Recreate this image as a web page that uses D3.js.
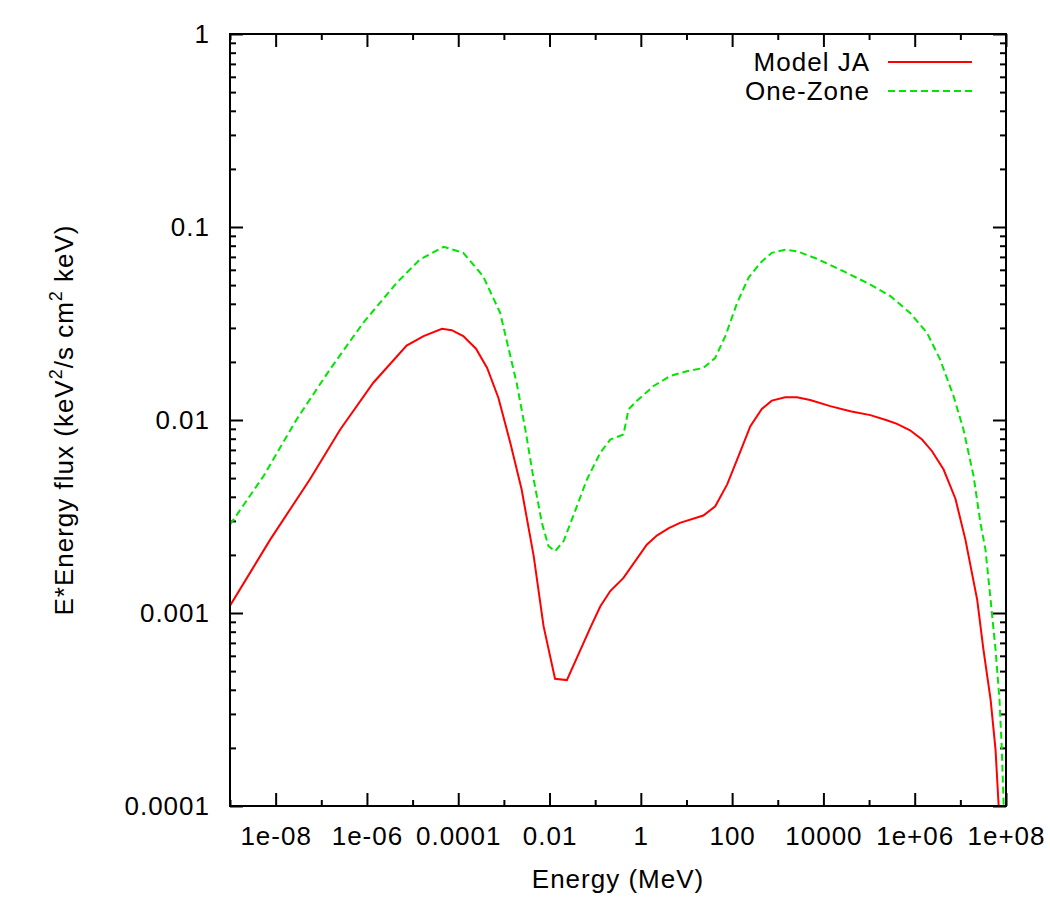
<!DOCTYPE html>
<html>
<head>
<meta charset="utf-8">
<script src="https://cdn.jsdelivr.net/npm/d3@7"></script>
<style>
  body { margin: 0; background: #fff; }
  svg { font-family: "Liberation Sans", Arial, Helvetica, sans-serif; }
  svg text { letter-spacing: 1px; }
  .axis path { display: none; }
  .axis line { stroke: #000; stroke-width: 2; }
  .axis text { font-size: 26px; fill: #000; }
</style>
</head>
<body>
<svg width="1050" height="900"></svg>
<script>
// data
const modelEnergy = [1e-9, 7.6e-9, 5.6e-8, 2.6e-7, 1.38e-6, 7.4e-6, 1.74e-5, 4.4e-5, 7.2e-5, 1.29e-4,
  2.45e-4, 4.3e-4, 7.6e-4, 1.38e-3, 2.45e-3, 4.5e-3, 7.4e-3, 0.0132, 0.024, 0.078,
  0.129, 0.214, 0.417, 1.35, 2.24, 4.1, 7.2, 23.4, 42.7, 78,
  138, 251, 447, 741, 1450, 2630, 5130, 14100, 38900, 1.07e5,
  2.45e5, 4.1e5, 7.9e5, 1.45e6, 2.4e6, 4.3e6, 7.8e6, 1.29e7, 2.34e7, 3.2e7,
  4.6e7, 5.9e7, 6.9e7, 7.4e7];
const modelFlux = [1.09e-3, 2.40e-3, 4.92e-3, 8.93e-3, 0.0156, 0.0243, 0.0272, 0.0297, 0.0292, 0.0272,
  0.0234, 0.0186, 0.0130, 7.62e-3, 4.36e-3, 1.97e-3, 8.55e-4, 4.56e-4, 4.49e-4, 8.38e-4,
  1.08e-3, 1.30e-3, 1.52e-3, 2.26e-3, 2.52e-3, 2.75e-3, 2.93e-3, 3.20e-3, 3.57e-3, 4.64e-3,
  6.49e-3, 9.29e-3, 0.0114, 0.0126, 0.0131, 0.0131, 0.0127, 0.0118, 0.0111, 0.0106,
  9.97e-3, 9.55e-3, 8.85e-3, 7.92e-3, 6.89e-3, 5.54e-3, 3.91e-3, 2.40e-3, 1.17e-3, 6.47e-4,
  3.56e-4, 1.96e-4, 1.0e-4, 7e-5];

const zoneEnergy = [1e-9, 5.4e-9, 2.9e-8, 1.55e-7, 8.3e-7, 4.5e-6, 1.45e-5, 4.8e-5, 1.29e-4, 3.5e-4,
  8.3e-4, 1.38e-3, 1.9e-3, 2.95e-3, 4.5e-3, 6.8e-3, 9.5e-3, 0.0132, 0.0204, 0.033,
  0.066, 0.129, 0.214, 0.417, 0.537, 0.81, 1.9, 4.4, 10.2, 23.4,
  42.7, 71, 129, 229, 417, 741, 1450, 2630, 7240, 27500,
  1.07e5, 2.95e5, 7.9e5, 1.86e6, 3.6e6, 7.1e6, 1.17e7, 1.95e7, 2.75e7, 3.55e7,
  4.6e7, 5.9e7, 7.2e7, 8.1e7, 8.9e7, 9.3e7];
const zoneFlux = [2.87e-3, 5.11e-3, 0.0101, 0.0183, 0.0319, 0.0514, 0.0679, 0.0789, 0.0735, 0.0556,
  0.0359, 0.0215, 0.0156, 8.93e-3, 4.92e-3, 2.93e-3, 2.22e-3, 2.09e-3, 2.36e-3, 3.18e-3,
  4.92e-3, 6.76e-3, 7.92e-3, 8.41e-3, 0.01135, 0.01253, 0.0150, 0.0169, 0.0179, 0.0186,
  0.0210, 0.0272, 0.0405, 0.0546, 0.0653, 0.0735, 0.0763, 0.0749, 0.0684, 0.0590,
  0.0503, 0.0438, 0.0359, 0.0283, 0.0206, 0.0133, 8.93e-3, 5.12e-3, 2.93e-3, 2.13e-3,
  1.17e-3, 6.47e-4, 3.56e-4, 1.96e-4, 1.0e-4, 7e-5];

const xTickValues = [1e-8, 1e-6, 1e-4, 1e-2, 1, 1e2, 1e4, 1e6, 1e8];
const xTickLabels = ["1e-08", "1e-06", "0.0001", "0.01", "1", "100", "10000", "1e+06", "1e+08"];
const yTickValues = [1e-4, 1e-3, 1e-2, 1e-1, 1];
const yTickLabels = ["0.0001", "0.001", "0.01", "0.1", "1"];

const series = [
  { name: "Model JA", energy: modelEnergy, flux: modelFlux, color: "#ff0000", dash: null },
  { name: "One-Zone", energy: zoneEnergy, flux: zoneFlux, color: "#00e600", dash: "7,4" }
];

const svg = d3.select("svg");
const plotLeft = 230, plotRight = 1006, plotTop = 34, plotBottom = 806;

const x = d3.scaleLog().domain([1e-9, 1e8]).range([plotLeft, plotRight]);
const y = d3.scaleLog().domain([1e-4, 1]).range([plotBottom, plotTop]);

// minor ticks: odd decades on x, 2..9 on y
const xMinor = d3.range(-9, 9).map(e => Math.pow(10, e)).filter(v => !xTickValues.includes(v));
const yMinor = [];
for (let e = -4; e < 0; e++) {
  for (let m = 2; m <= 9; m++) yMinor.push(m * Math.pow(10, e));
}

function addAxis(axis, tx, ty) {
  return svg.append("g")
    .attr("class", "axis")
    .attr("transform", `translate(${tx},${ty})`)
    .call(axis);
}

// bottom / top
const xb = addAxis(d3.axisBottom(x).tickValues(xTickValues).tickSize(-13)
  .tickFormat((d, i) => xTickLabels[i]), 0, plotBottom);
xb.selectAll("text").attr("y", 21);
addAxis(d3.axisBottom(x).tickValues(xMinor).tickSize(-6).tickFormat(""), 0, plotBottom);
addAxis(d3.axisTop(x).tickValues(xTickValues).tickSize(-13).tickFormat(""), 0, plotTop);
addAxis(d3.axisTop(x).tickValues(xMinor).tickSize(-6).tickFormat(""), 0, plotTop);

// left / right
const yl = addAxis(d3.axisLeft(y).tickValues(yTickValues).tickSize(-13)
  .tickFormat((d, i) => yTickLabels[i]), plotLeft, 0);
yl.selectAll("text").attr("x", -20);
addAxis(d3.axisLeft(y).tickValues(yMinor).tickSize(-6).tickFormat(""), plotLeft, 0);
addAxis(d3.axisRight(y).tickValues(yTickValues).tickSize(-13).tickFormat(""), plotRight, 0);
addAxis(d3.axisRight(y).tickValues(yMinor).tickSize(-6).tickFormat(""), plotRight, 0);

// clip region for curves
svg.append("clipPath").attr("id", "plotClip")
  .append("rect")
  .attr("x", plotLeft).attr("y", plotTop)
  .attr("width", plotRight - plotLeft).attr("height", plotBottom - plotTop);

const line = d3.line()
  .x(d => x(d[0]))
  .y(d => y(d[1]));

const curves = svg.append("g").attr("clip-path", "url(#plotClip)");
series.forEach(s => {
  curves.append("path")
    .datum(s.energy.map((e, i) => [e, s.flux[i]]))
    .attr("d", line)
    .attr("fill", "none")
    .attr("stroke", s.color)
    .attr("stroke-width", 2)
    .attr("stroke-dasharray", s.dash);
});

// frame
svg.append("rect")
  .attr("x", plotLeft).attr("y", plotTop)
  .attr("width", plotRight - plotLeft).attr("height", plotBottom - plotTop)
  .attr("fill", "none")
  .attr("stroke", "#000")
  .attr("stroke-width", 2);

// legend
const legend = svg.append("g").attr("transform", "translate(870,62)");
series.forEach((s, i) => {
  const row = legend.append("g").attr("transform", `translate(0,${i * 29})`);
  row.append("text")
    .attr("x", 0).attr("y", 0).attr("dy", "0.35em")
    .attr("text-anchor", "end")
    .attr("font-size", 26)
    .text(s.name);
  row.append("line")
    .attr("x1", 18).attr("x2", 102)
    .attr("stroke", s.color)
    .attr("stroke-width", 2)
    .attr("stroke-dasharray", s.dash);
});

// axis titles
svg.append("text")
  .attr("x", (plotLeft + plotRight) / 2)
  .attr("y", 888)
  .attr("text-anchor", "middle")
  .attr("font-size", 26)
  .text("Energy (MeV)");

const yTitle = svg.append("text")
  .attr("transform", `translate(73,${(plotTop + plotBottom) / 2}) rotate(-90)`)
  .attr("text-anchor", "middle")
  .attr("font-size", 26);
yTitle.append("tspan").text("E*Energy flux (keV");
yTitle.append("tspan").attr("font-size", 18).attr("dy", -11).text("2");
yTitle.append("tspan").attr("dy", 11).text("/s cm");
yTitle.append("tspan").attr("font-size", 18).attr("dy", -11).text("2");
yTitle.append("tspan").attr("dy", 11).text(" keV)");
</script>
</body>
</html>
